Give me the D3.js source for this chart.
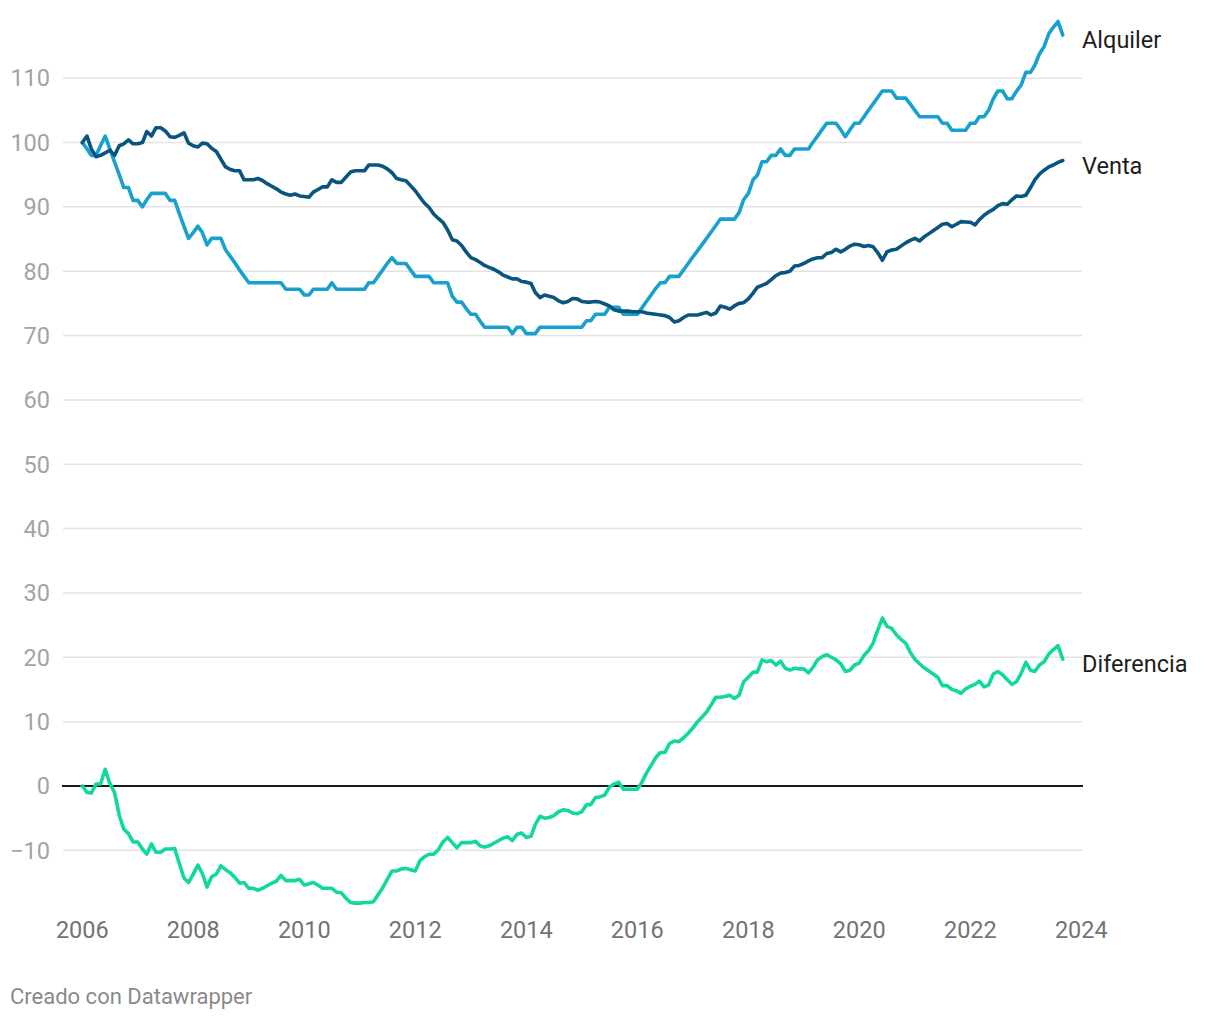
<!DOCTYPE html>
<html>
<head>
<meta charset="utf-8">
<script src="https://cdn.jsdelivr.net/npm/d3@7"></script>
<style>
  html, body { margin: 0; padding: 0; background: #fff; }
  svg { display: block; font-family: Roboto, "Noto Sans", sans-serif; }
</style>
</head>
<body>
<svg id="chart" width="1220" height="1020"></svg>
<script>
// ---- DATA (monthly, starting January 2006) ----
const startMonth = "2006-01";
const seriesNames = ["Alquiler", "Venta", "Diferencia"];

const alquiler = [
  100, 99, 98, 98, 99.5, 101, 99, 97, 95, 93,
  93, 91, 91, 90, 91.1, 92.1, 92.1, 92.1, 92.1, 91,
  91, 89, 87, 85.1, 86, 87, 86, 84.1, 85.1, 85.1,
  85.1, 83.3, 82.3, 81.3, 80.2, 79.2, 78.2, 78.2, 78.2, 78.2,
  78.2, 78.2, 78.2, 78.2, 77.2, 77.2, 77.2, 77.2, 76.3, 76.3,
  77.2, 77.2, 77.2, 77.2, 78.2, 77.2, 77.2, 77.2, 77.2, 77.2,
  77.2, 77.2, 78.2, 78.2, 79.2, 80.2, 81.2, 82.1, 81.2, 81.2,
  81.2, 80.2, 79.2, 79.2, 79.2, 79.2, 78.2, 78.2, 78.2, 78.2,
  76.1, 75.2, 75.2, 74.2, 73.3, 73.3, 72.3, 71.3, 71.3, 71.3,
  71.3, 71.3, 71.3, 70.3, 71.3, 71.3, 70.3, 70.3, 70.3, 71.3,
  71.3, 71.3, 71.3, 71.3, 71.3, 71.3, 71.3, 71.3, 71.3, 72.3,
  72.3, 73.3, 73.3, 73.3, 74.4, 74.4, 74.4, 73.3, 73.3, 73.3,
  73.3, 74.3, 75.3, 76.3, 77.3, 78.2, 78.2, 79.2, 79.2, 79.2,
  80.2, 81.2, 82.2, 83.2, 84.1, 85.1, 86.1, 87.1, 88.1, 88.1,
  88.1, 88.1, 89.1, 91.1, 92.1, 94.2, 94.9, 97, 97, 98,
  98, 99, 98, 98, 99, 99, 99, 99, 100, 101,
  102, 103, 103, 103, 102, 100.9, 102, 103, 103, 104,
  105, 106, 107, 108, 108, 108, 106.9, 106.9, 106.9, 106,
  105, 104, 104, 104, 104, 104, 103, 103, 101.9, 101.9,
  101.9, 101.9, 103, 103, 104, 104, 105, 106.8, 108, 108,
  106.8, 106.8, 108, 108.9, 110.9, 110.9, 112, 113.8, 114.9, 116.9,
  117.9, 118.8, 116.7
];

const venta = [
  100, 101, 99, 97.8, 98, 98.4, 98.8, 98, 99.5, 99.8,
  100.4, 99.8, 99.8, 100, 101.7, 101, 102.3, 102.3, 101.8, 100.9,
  100.8, 101.1, 101.5, 99.9, 99.5, 99.3, 99.9, 99.8, 99.1, 98.6,
  97.4, 96.2, 95.8, 95.6, 95.6, 94.2, 94.2, 94.2, 94.4, 94.1,
  93.6, 93.2, 92.8, 92.3, 92.0, 91.8, 92.0, 91.7, 91.6, 91.5,
  92.3, 92.7, 93.1, 93.1, 94.2, 93.8, 93.8, 94.6, 95.4, 95.6,
  95.6, 95.6, 96.5, 96.5, 96.5, 96.3, 95.9, 95.3, 94.4, 94.2,
  94.05, 93.3, 92.5, 91.5, 90.6, 89.9, 88.9, 88.2, 87.6, 86.4,
  84.9, 84.7, 84.0, 83.0, 82.1, 81.8, 81.4, 80.9, 80.6, 80.3,
  79.9, 79.4, 79.1, 78.8, 78.8, 78.4, 78.3, 78.1, 76.7, 75.9,
  76.3, 76.1, 75.9, 75.4, 75.1, 75.3, 75.75, 75.7, 75.3, 75.2,
  75.2, 75.3, 75.2, 74.9, 74.6, 74.0, 73.8, 73.8, 73.8, 73.7,
  73.7, 73.7, 73.5, 73.4, 73.3, 73.2, 73.1, 72.8, 72.1, 72.3,
  72.8, 73.2, 73.2, 73.2, 73.4, 73.6, 73.2, 73.5, 74.6, 74.4,
  74.1, 74.6, 75.0, 75.1, 75.7, 76.6, 77.5, 77.8, 78.1, 78.7,
  79.3, 79.7, 79.8, 80.0, 80.8, 80.9, 81.2, 81.6, 81.9, 82.1,
  82.1, 82.75, 82.9, 83.4, 83.0, 83.4, 83.9, 84.2, 84.1, 83.85,
  84.0, 83.8, 82.9, 81.7, 83.0, 83.3, 83.4, 83.9, 84.4, 84.8,
  85.1, 84.7, 85.3, 85.8, 86.3, 86.8, 87.3, 87.4, 86.9, 87.3,
  87.7, 87.65, 87.6, 87.2, 88.0, 88.7, 89.2, 89.6, 90.2, 90.5,
  90.4, 91.1, 91.7, 91.6, 91.8, 93.0, 94.2, 95.1, 95.7, 96.2,
  96.5, 96.9, 97.2
];

const diferencia = [
  0, -1.0, -1.1, 0.3, 0.3, 2.6, 0.4, -1.0, -4.5, -6.7,
  -7.4, -8.7, -8.7, -9.8, -10.6, -9.0, -10.3, -10.3, -9.8, -9.8,
  -9.7, -12.0, -14.3, -15.0, -13.7, -12.3, -13.6, -15.7, -14.1, -13.7,
  -12.4, -13.0, -13.5, -14.2, -15.1, -15.0, -15.9, -15.9, -16.2, -15.9,
  -15.5, -15.1, -14.8, -13.9, -14.7, -14.7, -14.7, -14.5, -15.4, -15.2,
  -15.0, -15.4, -15.9, -15.9, -15.9, -16.5, -16.6, -17.4, -18.1, -18.2,
  -18.2, -18.1, -18.1, -18.0, -16.9, -15.8, -14.5, -13.2, -13.2, -12.9,
  -12.8, -13.0, -13.2, -11.6, -11.0, -10.6, -10.6, -9.9, -8.7, -8.0,
  -8.8, -9.6, -8.8, -8.8, -8.8, -8.6, -9.3, -9.5, -9.3, -8.9,
  -8.5, -8.1, -7.9, -8.5, -7.5, -7.3, -8.0, -7.8, -6.0, -4.7,
  -5.0, -4.9, -4.6, -4.0, -3.7, -3.8, -4.2, -4.3, -4.0, -2.9,
  -2.9, -1.8, -1.7, -1.4, -0.2, 0.3, 0.6, -0.5, -0.5, -0.5,
  -0.5, 0.6, 2.0, 3.2, 4.4, 5.2, 5.2, 6.6, 7.0, 6.9,
  7.5, 8.2, 9.0, 10.0, 10.7, 11.5, 12.6, 13.8, 13.8, 13.9,
  14.1, 13.6, 14.1, 16.2, 16.9, 17.7, 17.7, 19.6, 19.3, 19.5,
  18.8, 19.4, 18.3, 18.0, 18.3, 18.2, 18.2, 17.6, 18.4, 19.6,
  20.1, 20.4, 20.0, 19.6, 19.0, 17.8, 18.0, 18.8, 19.1, 20.3,
  21.0, 22.2, 24.2, 26.1, 24.8, 24.5, 23.5, 22.8, 22.2, 20.8,
  19.7, 19.0, 18.4, 17.9, 17.4, 16.9, 15.6, 15.6, 15.0, 14.8,
  14.4, 15.1, 15.5, 15.8, 16.3, 15.4, 15.7, 17.4, 17.8, 17.3,
  16.5, 15.8, 16.2, 17.5, 19.2, 18.0, 17.8, 18.8, 19.3, 20.5,
  21.2, 21.8, 19.7
];

const yTicks = [-10, 0, 10, 20, 30, 40, 50, 60, 70, 80, 90, 100, 110];
const xTicks = [2006, 2008, 2010, 2012, 2014, 2016, 2018, 2020, 2022, 2024];
const footerText = "Creado con Datawrapper";

// ---- STYLE ----
const colors = { Alquiler: "#18a1cd", Venta: "#09557f", Diferencia: "#12d8a0" };

const svg = d3.select("#chart");
const parseMonth = d3.timeParse("%Y-%m");
const start = parseMonth(startMonth);
const dates = d3.range(alquiler.length).map(i => d3.timeMonth.offset(start, i));

const x = d3.scaleTime()
  .domain([new Date(2006, 0, 1), new Date(2024, 0, 1)])
  .range([82.3, 1081.3]);
const y = d3.scaleLinear().domain([-20, 120]).range([914.7, 13.8]);

const gridLeft = 63, gridRight = 1082;

// gridlines
svg.append("g").selectAll("line")
  .data(yTicks.filter(t => t !== 0))
  .join("line")
  .attr("x1", gridLeft).attr("x2", gridRight)
  .attr("y1", d => y(d)).attr("y2", d => y(d))
  .attr("stroke", "#e3e3e3").attr("stroke-width", 1.5);

// y tick labels
svg.append("g").selectAll("text")
  .data(yTicks)
  .join("text")
  .attr("x", 50).attr("y", d => y(d) + 8.3)
  .attr("text-anchor", "end")
  .attr("font-size", 23.5)
  .attr("fill", "#a3a3a3")
  .text(d => d < 0 ? "\u2212" + Math.abs(d) : d);

// x tick labels
svg.append("g").selectAll("text")
  .data(xTicks)
  .join("text")
  .attr("x", d => x(new Date(d, 0, 1)))
  .attr("y", 938)
  .attr("text-anchor", "middle")
  .attr("font-size", 23.5)
  .attr("fill", "#737373")
  .text(d => d);

// zero baseline
svg.append("line")
  .attr("x1", 62).attr("x2", 1083)
  .attr("y1", y(0)).attr("y2", y(0))
  .attr("stroke", "#1a1a1a").attr("stroke-width", 2);

// lines
const seriesData = { Alquiler: alquiler, Venta: venta, Diferencia: diferencia };
const line = d3.line()
  .x((d, i) => x(dates[i]))
  .y(d => y(d));

seriesNames.forEach(name => {
  const vals = seriesData[name];
  svg.append("path")
    .datum(vals)
    .attr("d", line)
    .attr("fill", "none")
    .attr("stroke", colors[name])
    .attr("stroke-width", 3.6)
    .attr("stroke-linejoin", "round")
    .attr("stroke-linecap", "round");
});

// series labels at line ends
seriesNames.forEach(name => {
  const vals = seriesData[name];
  const last = vals[vals.length - 1];
  svg.append("text")
    .attr("x", 1082)
    .attr("y", y(last) + 13)
    .attr("font-size", 23.5)
    .attr("fill", "#1d1d1d")
    .text(name);
});

// footer
svg.append("text")
  .attr("x", 10).attr("y", 1004)
  .attr("font-size", 22)
  .attr("fill", "#8a8a8a")
  .text(footerText);
</script>
</body>
</html>
